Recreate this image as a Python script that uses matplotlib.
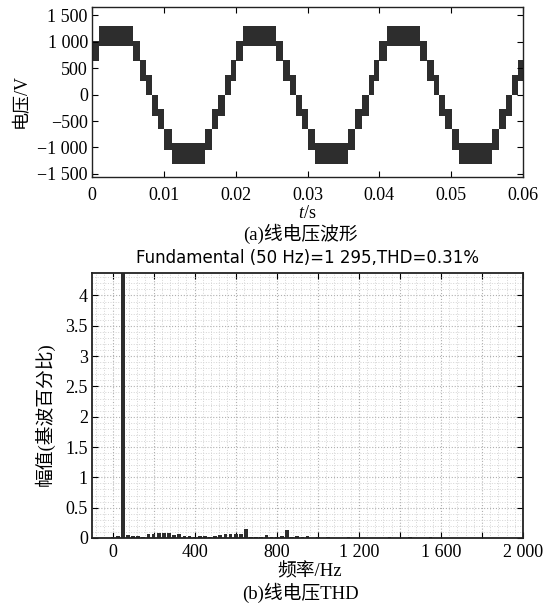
import matplotlib
matplotlib.use("Agg")
import matplotlib.pyplot as plt
from matplotlib.ticker import FixedLocator, MultipleLocator

plt.rcParams['font.family'] = ['Liberation Serif', 'Noto Sans CJK SC']
plt.rcParams['mathtext.fontset'] = 'custom'
plt.rcParams['mathtext.it'] = 'Liberation Serif:italic'
plt.rcParams['mathtext.rm'] = 'Liberation Serif'
plt.rcParams['axes.unicode_minus'] = True

# ---------------- data: (a) line voltage waveform (staircase bands) ----------------
t_edges = [0.0000, 0.00102, 0.00567, 0.00665, 0.00758, 0.00837, 0.00921, 0.01009, 0.01107,
           0.01567, 0.01665, 0.01758, 0.01851, 0.01930,
           0.02000, 0.02102, 0.02567, 0.02665, 0.02758, 0.02837, 0.02921, 0.03009, 0.03107,
           0.03567, 0.03665, 0.03758, 0.03851, 0.03930,
           0.04000, 0.04102, 0.04567, 0.04665, 0.04758, 0.04837, 0.04921, 0.05009, 0.05107,
           0.05567, 0.05665, 0.05758, 0.05851, 0.05930, 0.06000]
band_lower = [640, 915, 640, 260, 0, -400, -660, -1040, -1305, -1040, -660, -400, 0, 260,
              640, 915, 640, 260, 0, -400, -660, -1040, -1305, -1040, -660, -400, 0, 260,
              640, 915, 640, 260, 0, -400, -660, -1040, -1305, -1040, -660, -400, 0, 260]
band_upper = [1020, 1300, 1020, 650, 380, 0, -275, -650, -920, -650, -275, 0, 380, 650,
              1020, 1300, 1020, 650, 380, 0, -275, -650, -920, -650, -275, 0, 380, 650,
              1020, 1300, 1020, 650, 380, 0, -275, -650, -920, -650, -275, 0, 380, 650]
v_ticks = [-1500, -1000, -500, 0, 500, 1000, 1500]
v_ticklabels = ['\u22121 500', '\u22121 000', '\u2212500', '0', '500', '1 000', '1 500']
t_ticks = [0, 0.01, 0.02, 0.03, 0.04, 0.05, 0.06]
t_ticklabels = ['0', '0.01', '0.02', '0.03', '0.04', '0.05', '0.06']

# ---------------- data: (b) harmonic spectrum (% of fundamental) ----------------
harm_freq = [0, 25, 50, 75, 100, 125, 150, 175, 200, 225, 250, 275, 300, 325, 350, 375,
             400, 425, 450, 475, 500, 525, 550, 575, 600, 625, 650, 675, 700, 725, 750,
             775, 800, 825, 850, 875, 900, 925, 950, 1000, 1050, 1150, 1350, 1450, 1550]
harm_mag = [0.02, 0.03, 100.0, 0.05, 0.04, 0.03, 0.02, 0.06, 0.06, 0.08, 0.08, 0.08, 0.05,
            0.06, 0.03, 0.03, 0.02, 0.03, 0.03, 0.02, 0.03, 0.05, 0.07, 0.06, 0.06, 0.06,
            0.15, 0.01, 0.02, 0.02, 0.05, 0.01, 0.02, 0.03, 0.13, 0.01, 0.03, 0.01, 0.04,
            0.01, 0.02, 0.02, 0.02, 0.02, 0.02]
f_ticks = [0, 200, 400, 600, 800, 1000, 1200, 1400, 1600, 1800, 2000]
f_ticklabels = ['0', '', '400', '', '800', '', '1 200', '', '1 600', '', '2 000']
p_ticks = [0, 0.5, 1, 1.5, 2, 2.5, 3, 3.5, 4]
p_ticklabels = ['0', '0.5', '1', '1.5', '2', '2.5', '3', '3.5', '4']
title_b = 'Fundamental (50 Hz)=1 295,THD=0.31%'

W, H = 549, 604
fig = plt.figure(figsize=(W / 100, H / 100), dpi=100)
dark = '#2d2d2d'

def fx(px):
    return px / W

def fy(py):
    return 1 - py / H

# ---------- top panel ----------
ax1 = fig.add_axes([fx(92), fy(177), fx(523 - 92), (177 - 7) / H])
ax1.fill_between(t_edges, band_lower + [band_lower[-1]], band_upper + [band_upper[-1]],
                 step='post', color=dark, linewidth=0)
ax1.set_xlim(0, 0.06)
ax1.set_ylim(-1560, 1660)
ax1.set_yticks(v_ticks)
ax1.set_yticklabels(v_ticklabels)
ax1.set_xticks(t_ticks)
ax1.set_xticklabels(t_ticklabels)
ax1.tick_params(direction='in', top=True, right=True, length=4, width=0.8,
                labelsize=13, pad=3)
ax1.tick_params(axis='x', pad=7)
for s in ax1.spines.values():
    s.set_linewidth(1.0)
    s.set_color('#222222')

fig.text(fx(307), fy(213), r'$\it{t}$/s', ha='center', va='center', fontsize=13)
fig.text(fx(300), fy(234), '(a)线电压波形', ha='center', va='center', fontsize=13.5)
fig.text(fx(21), fy(101), '电压/V', ha='center', va='center', fontsize=13, rotation=90)

# ---------- bottom panel ----------
ax2 = fig.add_axes([fx(92), fy(538), fx(523 - 92), (538 - 273) / H])
ax2.set_axisbelow(True)
ax2.bar(harm_freq, harm_mag, width=18, color=dark, linewidth=0)
ax2.set_xlim(-100, 2000)
ax2.set_ylim(0, 4.37)
ax2.xaxis.set_major_locator(FixedLocator(f_ticks))
ax2.set_xticklabels(f_ticklabels)
ax2.set_yticks(p_ticks)
ax2.set_yticklabels(p_ticklabels)
ax2.xaxis.set_minor_locator(MultipleLocator(40))
ax2.yaxis.set_minor_locator(MultipleLocator(0.1))
ax2.tick_params(which='major', direction='in', top=True, right=True, length=4, width=0.8,
                labelsize=13, pad=3)
ax2.tick_params(axis='x', which='major', pad=4)
ax2.tick_params(which='minor', length=0)
ax2.grid(which='major', linestyle=':', color='#b0b0b0', linewidth=0.8)
ax2.grid(which='minor', linestyle=':', color='#d4d4d4', linewidth=0.7)
for s in ax2.spines.values():
    s.set_linewidth(1.3)
    s.set_color('#222222')

fig.text(fx(308), fy(258), title_b, ha='center', va='center', fontsize=12,
         family=['DejaVu Sans'])
fig.text(fx(310), fy(572), '频率/Hz', ha='center', va='center', fontsize=13.5)
fig.text(fx(300), fy(593), '(b)线电压THD', ha='center', va='center', fontsize=13.5)
fig.text(fx(45), fy(414), '幅值(基波百分比)', ha='center', va='center', fontsize=13.5, rotation=90)

fig.savefig('out.png', dpi=100)
